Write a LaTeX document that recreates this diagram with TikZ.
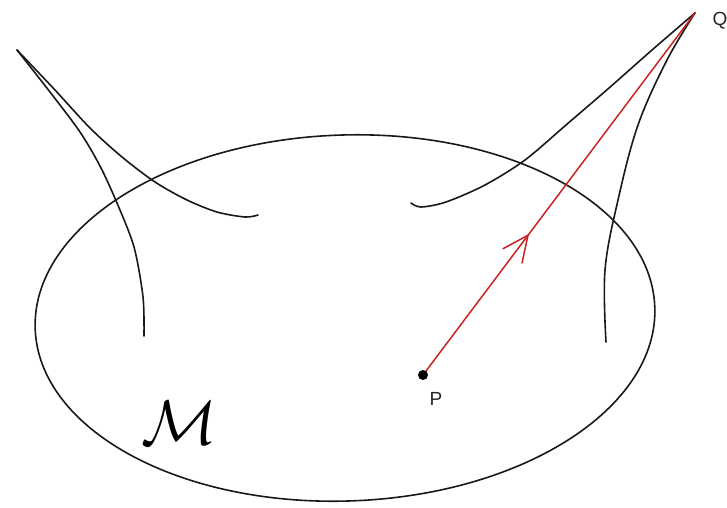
\documentclass[tikz,border=0pt]{standalone}
\usepackage{fontspec}
\setmainfont{Liberation Sans}
\usetikzlibrary{arrows.meta,decorations.markings}
\definecolor{ray}{RGB}{200,35,35}
\tikzset{
  curve/.style={line width=1.6pt, black!90, line cap=round, line join=round},
  raypath/.style={line width=1.5pt, ray},
  lbl/.style={inner sep=0pt, text=black!85, font=\fontsize{19}{19}\selectfont},
}
\begin{document}
\begin{tikzpicture}[x=1pt,y=-1pt]
\useasboundingbox (0,0) rectangle (727,507);
% manifold boundary
\coordinate (c) at (345,318);
\draw[curve, rotate around={2:(c)}] (c) ellipse [x radius=310, y radius=183];
% left cusp
\draw[curve] plot[smooth, tension=0.5] coordinates {
 (17,50) (55,90) (90,128) (122,157) (155,182) (187,200) (217,212) (245,217) (258,215)};
\draw[curve] plot[smooth, tension=0.5] coordinates {
 (17,50) (50,92) (80,132) (100,166) (117,203) (134,247) (143,297) (144,336)};
% right cusp
\coordinate (q) at (695,13);
\draw[curve] plot[smooth, tension=0.5] coordinates {
 (695,13) (652,50) (609,88) (566,125) (525,160) (485,185) (446,202) (421,207) (411,203)};
\draw[curve] plot[smooth, tension=0.6] coordinates {
 (695,13) (667,60) (638,125) (618,200) (605,270) (606,342)};
% ray from P to Q
\coordinate (p) at (423,375);
\draw[raypath, postaction={decorate}, decoration={markings,
  mark=at position 0.39 with {\arrow[line width=1.5pt, ray]{Straight Barb[length=26pt,width=24pt]}}}]
  (p) -- (q);
\node[fill=black, circle, inner sep=0pt, minimum size=10pt] (pdot) at (p) {};
\node[lbl] (plab) at (436,399) {P};
\node[lbl] (qlab) at (720,21) {Q};
\node[inner sep=0pt, scale=6.3] (mlab) at (179,423) {$\mathcal{M}$};
\end{tikzpicture}
\end{document}
